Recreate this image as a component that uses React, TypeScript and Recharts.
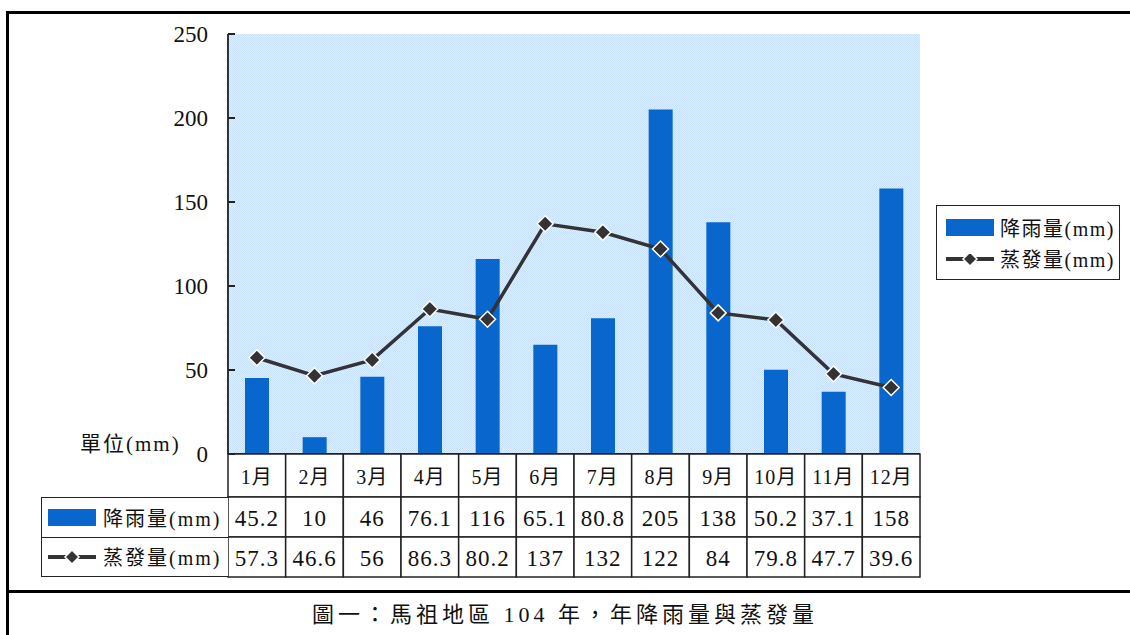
import React from "react";
import {
  ComposedChart,
  Bar,
  Line,
  XAxis,
  YAxis,
  CartesianGrid,
} from "recharts";

const months = ["1月", "2月", "3月", "4月", "5月", "6月", "7月", "8月", "9月", "10月", "11月", "12月"];
const rainfall = [45.2, 10, 46, 76.1, 116, 65.1, 80.8, 205, 138, 50.2, 37.1, 158];
const evaporation = [57.3, 46.6, 56, 86.3, 80.2, 137, 132, 122, 84, 79.8, 47.7, 39.6];
const yTicks = [0, 50, 100, 150, 200, 250];

const rainName = "降雨量(mm)";
const evapName = "蒸發量(mm)";
const unitLabel = "單位(mm)";
const caption = "圖一：馬祖地區 104 年，年降雨量與蒸發量";

const data = months.map((m, i) => ({ month: m, rain: rainfall[i], evap: evaporation[i] }));

const W = 1130;
const H = 635;
const PLOT_LEFT = 228;
const PLOT_RIGHT = 920;
const CELL_W = (PLOT_RIGHT - PLOT_LEFT) / months.length;
const HEAD_H = 43;
const ROW_H = 40;
const BAR_COLOR = "#0866cc";
const LINE_COLOR = "#333333";
const INK = "#111";
const FONT = '"Liberation Serif", "Noto Sans CJK TC", serif';

function Diamond({ cx, cy, r = 8 }: { cx: number; cy: number; r?: number }) {
  return (
    <polygon
      points={`${cx},${cy - r} ${cx + r},${cy} ${cx},${cy + r} ${cx - r},${cy}`}
      fill={LINE_COLOR}
      stroke="#fff"
      strokeWidth={1.5}
    />
  );
}

function LineDot(props: any) {
  const { cx, cy } = props;
  if (cx == null || cy == null) return null;
  return <Diamond cx={cx} cy={cy} />;
}

function YTick(props: any) {
  const { x, y, payload } = props;
  return (
    <g>
      <text x={x} y={y} textAnchor="end" dominantBaseline="central" fontSize={23} fill={INK}>
        {payload.value}
      </text>
      <line x1={x + 20} x2={x + 27} y1={y} y2={y} stroke="#222" strokeWidth={2} />
    </g>
  );
}

function TableTick(props: any) {
  const { x, y, index } = props;
  const x0 = x - CELL_W / 2;
  const cells = [
    { top: y, h: HEAD_H, label: months[index], size: 20 },
    { top: y + HEAD_H, h: ROW_H, label: String(rainfall[index]), size: 23 },
    { top: y + HEAD_H + ROW_H, h: ROW_H, label: String(evaporation[index]), size: 23 },
  ];
  return (
    <g>
      {cells.map((c, k) => (
        <g key={k}>
          <rect x={x0} y={c.top} width={CELL_W} height={c.h} fill="#fff" stroke="#222" strokeWidth={1.5} />
          <text
            x={x}
            y={c.top + c.h / 2 + 1}
            textAnchor="middle"
            dominantBaseline="central"
            fontSize={c.size}
            fill={INK}
            letterSpacing={k === 0 ? 1 : 1}
          >
            {c.label}
          </text>
        </g>
      ))}
    </g>
  );
}

function LineSwatch() {
  return (
    <svg width={48} height={18} style={{ display: "block" }}>
      <line x1={0} x2={48} y1={9} y2={9} stroke={LINE_COLOR} strokeWidth={4} />
      <Diamond cx={24} cy={9} r={7} />
    </svg>
  );
}

export default function App() {
  return (
    <div
      style={{
        position: "absolute",
        left: 0,
        top: 0,
        width: W,
        height: H,
        fontFamily: FONT,
        color: INK,
        background: "#fff",
        overflow: "hidden",
      }}
    >
      <svg width={0} height={0} style={{ position: "absolute" }}>
        <defs>
          <pattern id="chk" width={2} height={2} patternUnits="userSpaceOnUse">
            <rect width={2} height={2} fill="#e0eefe" />
            <rect width={1} height={1} fill="#c6dffb" />
            <rect x={1} y={1} width={1} height={1} fill="#c6dffb" />
          </pattern>
        </defs>
      </svg>

      {/* outer frame */}
      <div style={{ position: "absolute", left: 6, top: 11, width: W, height: H, borderLeft: "3px solid #000", borderTop: "3px solid #000" }} />
      <div style={{ position: "absolute", left: 6, top: 590, width: W, height: 0, borderTop: "3px solid #000" }} />

      <div style={{ position: "absolute", left: 0, top: 0 }}>
        <ComposedChart
          width={W}
          height={H}
          data={data}
          margin={{ top: 34, right: W - PLOT_RIGHT, bottom: H - 454 - HEAD_H - 2 * ROW_H, left: PLOT_LEFT - 60 }}
          barCategoryGap={0}
        >
          <CartesianGrid fill="url(#chk)" horizontal={false} vertical={false} />
          <XAxis
            dataKey="month"
            interval={0}
            height={HEAD_H + 2 * ROW_H}
            tickSize={0}
            tickMargin={0}
            tickLine={false}
            axisLine={{ stroke: "#222", strokeWidth: 2 }}
            tick={<TableTick />}
          />
          <YAxis
            domain={[0, 250]}
            ticks={yTicks}
            interval={0}
            width={60}
            tickSize={0}
            tickMargin={20}
            tickLine={false}
            axisLine={{ stroke: "#333", strokeWidth: 2 }}
            tick={<YTick />}
          />
          <Bar dataKey="rain" name={rainName} fill={BAR_COLOR} barSize={24} isAnimationActive={false} />
          <Line
            dataKey="evap"
            name={evapName}
            stroke={LINE_COLOR}
            strokeWidth={3.5}
            dot={<LineDot />}
            activeDot={false}
            isAnimationActive={false}
          />
        </ComposedChart>
      </div>

      {/* unit label */}
      <div style={{ position: "absolute", left: 80, top: 427, fontSize: 21, letterSpacing: 2, whiteSpace: "nowrap" }}>{unitLabel}</div>

      {/* table left header */}
      <div
        style={{
          position: "absolute",
          left: 41,
          top: 454 + HEAD_H,
          width: PLOT_LEFT - 41,
          height: 2 * ROW_H,
          boxSizing: "border-box",
          border: "1.5px solid #222",
          borderRight: "none",
          background: "#fff",
        }}
      >
        <div style={{ height: ROW_H, display: "flex", alignItems: "center", borderBottom: "1.5px solid #222", boxSizing: "border-box" }}>
          <div style={{ width: 48, height: 17, background: BAR_COLOR, marginLeft: 6 }} />
          <span style={{ fontSize: 20, marginLeft: 7, letterSpacing: 2, whiteSpace: "nowrap" }}>{rainName}</span>
        </div>
        <div style={{ height: ROW_H - 3, display: "flex", alignItems: "center" }}>
          <div style={{ marginLeft: 6 }}>
            <LineSwatch />
          </div>
          <span style={{ fontSize: 20, marginLeft: 7, letterSpacing: 2, whiteSpace: "nowrap" }}>{evapName}</span>
        </div>
      </div>

      {/* legend */}
      <div
        style={{
          position: "absolute",
          left: 936,
          top: 205,
          width: 184,
          height: 75,
          boxSizing: "border-box",
          border: "1.5px solid #222",
          background: "#fff",
          padding: "6px 0 0 9px",
        }}
      >
        <div style={{ display: "flex", alignItems: "center", height: 31 }}>
          <div style={{ width: 48, height: 17, background: BAR_COLOR }} />
          <span style={{ fontSize: 20, marginLeft: 6, letterSpacing: 1.5, whiteSpace: "nowrap" }}>{rainName}</span>
        </div>
        <div style={{ display: "flex", alignItems: "center", height: 31 }}>
          <LineSwatch />
          <span style={{ fontSize: 20, marginLeft: 6, letterSpacing: 1.5, whiteSpace: "nowrap" }}>{evapName}</span>
        </div>
      </div>

      {/* caption */}
      <div style={{ position: "absolute", left: 0, top: 596, width: W, textAlign: "center", fontSize: 22, letterSpacing: 4 }}>
        {caption}
      </div>
    </div>
  );
}
